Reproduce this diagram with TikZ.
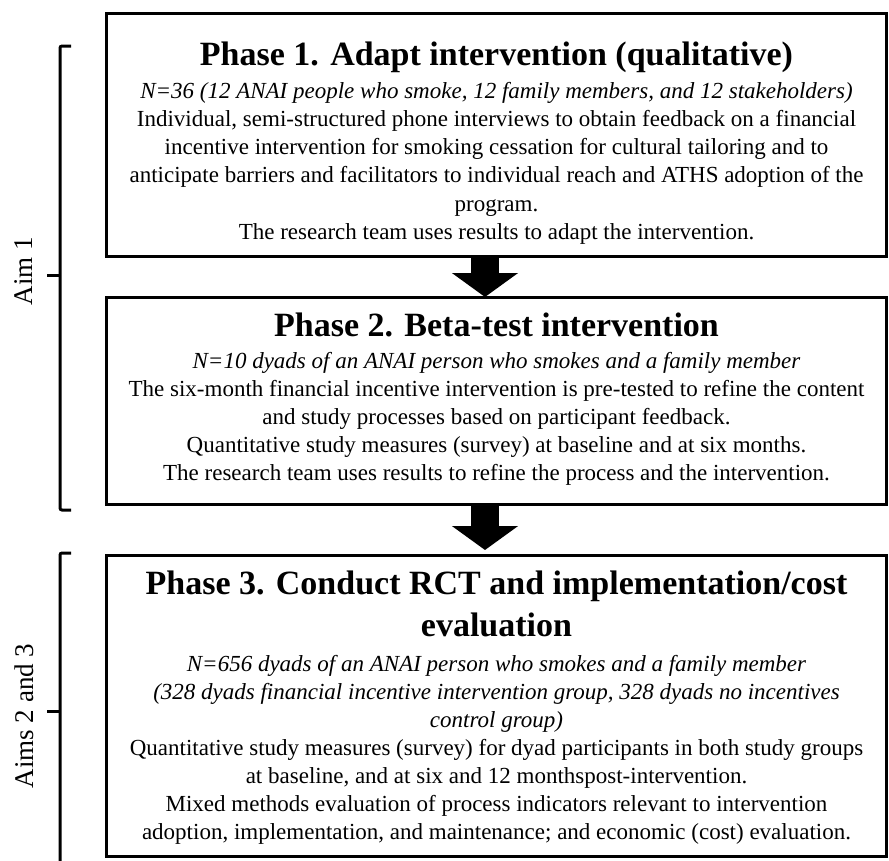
\documentclass[tikz,border=0pt]{standalone}
\usepackage{fontspec}
\setmainfont{Liberation Serif}
\usetikzlibrary{arrows.meta}

\newcommand\phasefont{\fontsize{34}{38}\selectfont\bfseries}
\newcommand\bodyfont{\fontsize{23}{28}\selectfont}
\newcommand\phasetitle[2]{{\phasefont\rule{0pt}{#1pt}#2}}
\newcommand\lastline[2]{#2\rule[-#1pt]{0pt}{0pt}}

\tikzset{
  phasebox/.style = {draw, line width = 3pt, outer sep = 0pt, minimum width = 780pt,
    inner ysep = 12pt, align = center, anchor = north, font = \bodyfont},
  phasearrow/.style = {line width = 28pt, -{Triangle[width = 65pt, length = 24pt]}},
  aimbrace/.style = {line width = 3pt, rounded corners = 2pt},
  aimlabel/.style = {rotate = 90, font = \fontsize{27}{30}\selectfont}
}

\begin{document}
\begin{tikzpicture}[x = 1pt, y = -1pt]
  \useasboundingbox (0, 0) rectangle (889, 860);
  \node[phasebox, font = \fontsize{23}{28.3}\selectfont] (phase1) at (496.5, 13)
  {\phasetitle{40.7}{Phase 1. Adapt intervention (qualitative)}\\[4pt]
   {\itshape N=36 (12 ANAI people who smoke, 12 family members, and 12 stakeholders)}\\
   Individual, semi-structured phone interviews to obtain feedback on a financial\\
   incentive intervention for smoking cessation for cultural tailoring and to\\
   anticipate barriers and facilitators to individual reach and ATHS adoption of the\\
   program.\\
   The research team uses results to adapt the intervention.};
  \node[phasebox] (phase2) at (496.5, 297)
  {\phasetitle{27}{Phase 2. Beta-test intervention}\\[4pt]
   {\itshape N=10 dyads of an ANAI person who smokes and a family member}\\
   The six-month financial incentive intervention is pre-tested to refine the content\\
   and study processes based on participant feedback.\\
   Quantitative study measures (survey) at baseline and at six months.\\
   \lastline{12}{The research team uses results to refine the process and the intervention.}};
  \node[phasebox] (phase3) at (496.5, 555)
  {\phasetitle{27.5}{Phase 3. Conduct RCT and implementation/cost}\\[10.5pt]
   {\phasefont evaluation}\\[7pt]
   {\itshape N=656 dyads of an ANAI person who smokes and a family member}\\
   {\itshape (328 dyads financial incentive intervention group, 328 dyads no incentives}\\
   {\itshape control group)}\\
   Quantitative study measures (survey) for dyad participants in both study groups\\
   at baseline, and at six and 12 monthspost-intervention.\\
   Mixed methods evaluation of process indicators relevant to intervention\\
   adoption, implementation, and maintenance; and economic (cost) evaluation.};
  \draw[phasearrow] ([xshift = -11.5pt]phase1.south) -- ([xshift = -11.5pt]phase2.north);
  \draw[phasearrow, shorten > = 5pt] ([xshift = -11.5pt]phase2.south) -- ([xshift = -11.5pt]phase3.north);
  % aims brackets
  \draw[aimbrace] (71, 46) -- (60, 46) -- (60, 510) -- (71, 510);
  \draw[aimbrace] (60, 275) -- (47, 275);
  \node[aimlabel] (aim1) at (24, 271) {Aim 1};
  \draw[aimbrace] (71, 553) -- (60, 553) -- (60, 870);
  \draw[aimbrace] (60, 711) -- (47, 711);
  \node[aimlabel] (aim23) at (24, 716) {Aims 2 and 3};
\end{tikzpicture}
\end{document}
